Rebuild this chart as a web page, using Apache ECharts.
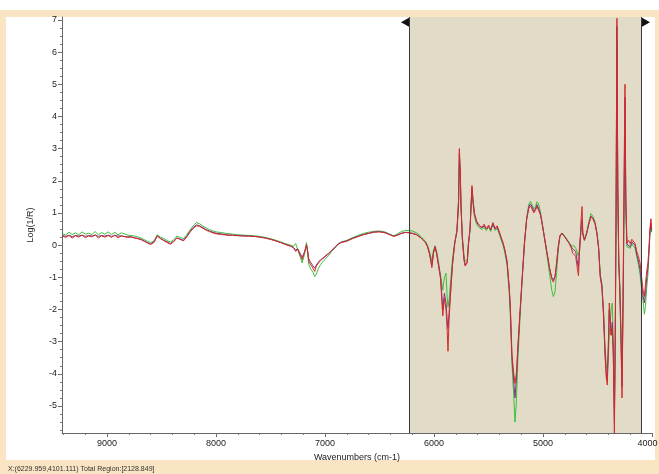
<!DOCTYPE html>
<html><head><meta charset="utf-8">
<script src="https://cdn.jsdelivr.net/npm/echarts@6/dist/echarts.min.js"></script>
<style>html,body{margin:0;padding:0;background:#fff}#c{width:659px;height:474px}</style>
</head><body><div id="c"></div>
<script>
// Wavenumbers (cm-1)
const wavenumbers = [
 9410,9380,9350,9320,9290,9260,9230,9200,9170,9140,9110,9080,9050,9020,8990,8960,8930,8900,8870,8840,8810,
 8780,8750,8720,8690,8660,8630,8600,8570,8540,8510,8480,8450,8420,8390,8360,8330,8300,8270,8240,8210,8180,8150,8120,8090,8060,8030,8000,
 7950,7900,7850,7800,7750,7700,7650,7600,7550,7500,7450,7400,7350,7320,7290,7270,7250,7230,7210,7190,7170,7160,7150,7130,7110,7095,7080,7060,7040,
 7020,7000,6970,6940,6910,6880,6850,6800,6750,6700,6650,6600,6550,6500,6450,6400,6370,6340,6300,6260,6230,
 6200,6160,6120,6080,6060,6040,6020,6005,5990,5975,5960,5940,5920,5905,5890,5880,5872,5862,5850,5830,5810,5790,5775,5768,5760,5752,5740,5725,5715,5705,5695,5685,5670,5660,5652,5643,5630,5610,5597,5580,
 5560,5540,5520,5500,5480,5460,5440,5420,5400,5380,5365,5350,5330,5310,5300,5285,5270,5257,5245,5230,5210,5193,5170,
 5150,5130,5115,5100,5085,5070,5055,5040,5025,5010,4990,4965,4940,4920,4905,4890,4875,4860,4845,4826,4800,4780,4760,4740,4728,4715,4700,4688,4675,4668,4660,4650,4642,4635,4620,4600,4580,4560,4540,
 4523,4505,4490,4475,4460,4445,4430,4420,4410,4400,4392,4385,4375,4365,4355,4345,4338,4330,4322,4314,4305,4295,4285,4275,4265,4255,4248,4240,4230,4215,4200,4185,4170,4155,4140,4125,4110,4095,4080,4070,4060,4048,4037,4028,4019,4010,4003
];
// Log(1/R) — green spectrum
const seriesGreen = [
 0.36,0.31,0.40,0.33,0.38,0.32,0.41,0.34,0.37,0.33,0.42,0.32,0.39,0.34,0.41,0.33,0.40,0.32,0.38,0.35,0.31,
 0.30,0.28,0.26,0.22,0.17,0.12,0.08,0.13,0.32,0.25,0.20,0.14,0.10,0.16,0.28,0.24,0.20,0.32,0.47,0.60,0.70,0.66,0.59,0.53,0.48,0.44,0.41,
 0.39,0.36,0.34,0.32,0.31,0.30,0.29,0.27,0.24,0.20,0.15,0.09,0.03,0.00,-0.04,0.05,-0.15,-0.35,-0.55,-0.30,0.08,-0.25,-0.60,-0.75,-0.85,-0.98,-0.90,-0.72,-0.60,
 -0.52,-0.44,-0.33,-0.20,-0.09,0.03,0.10,0.15,0.23,0.30,0.36,0.40,0.43,0.44,0.41,0.33,0.29,0.34,0.42,0.46,0.45,
 0.44,0.38,0.27,0.12,0.00,-0.22,-0.50,-0.15,-0.02,-0.22,-0.50,-0.95,-1.40,-1.00,-0.87,-1.60,-1.93,-1.70,-1.20,-0.40,0.10,0.40,1.20,2.60,2.20,1.10,0.25,-0.30,-0.50,-0.55,-0.45,0.05,0.45,1.15,1.65,1.30,0.90,0.65,0.58,0.52,
 0.48,0.55,0.45,0.58,0.42,0.68,0.45,0.52,0.32,0.12,-0.02,-0.25,-0.62,-1.50,-2.20,-3.70,-4.60,-5.50,-4.90,-3.50,-2.20,-1.20,0.02,
 0.85,1.28,1.36,1.25,1.12,1.20,1.35,1.28,1.05,0.75,0.28,-0.28,-0.90,-1.40,-1.60,-1.45,-0.85,-0.15,0.25,0.38,0.28,0.18,0.08,-0.02,-0.05,-0.02,-0.10,-0.20,-0.35,-0.15,0.12,0.45,0.60,0.30,0.18,0.40,0.72,0.98,0.88,
 0.72,0.40,-0.05,-0.9,-1.2,-2.0,-3.2,-3.7,-3.9,-3.4,-2.8,-2.5,-2.0,-1.8,-3.0,-5.0,-3.5,0.5,6.3,1.5,-0.5,-1.2,-2.5,-3.8,-1.8,1.5,3.7,1.0,-0.05,0.0,-0.1,0.05,0.1,-0.1,-0.35,-0.6,-0.9,-1.4,-1.8,-2.15,-1.9,-1.3,-0.9,-0.3,0.3,0.6,0.4
];
// Log(1/R) — purple spectrum
const seriesPurple = [
 0.30,0.27,0.31,0.26,0.30,0.28,0.31,0.27,0.30,0.28,0.31,0.27,0.30,0.28,0.31,0.27,0.30,0.28,0.29,0.27,0.26,
 0.26,0.23,0.21,0.18,0.13,0.08,0.04,0.10,0.28,0.21,0.15,0.10,0.05,0.12,0.22,0.19,0.15,0.27,0.42,0.55,0.63,0.60,0.54,0.48,0.44,0.40,0.37,
 0.35,0.32,0.31,0.30,0.29,0.28,0.27,0.25,0.22,0.18,0.13,0.07,0.01,-0.02,-0.07,-0.15,-0.12,-0.25,-0.38,-0.22,-0.02,-0.18,-0.42,-0.55,-0.65,-0.72,-0.62,-0.52,-0.45,
 -0.40,-0.34,-0.26,-0.16,-0.06,0.04,0.09,0.13,0.21,0.27,0.33,0.37,0.41,0.42,0.39,0.32,0.28,0.31,0.37,0.40,0.39,
 0.37,0.33,0.23,0.09,-0.04,-0.28,-0.62,-0.22,-0.05,-0.28,-0.58,-1.00,-2.00,-1.50,-1.80,-2.30,-2.60,-2.10,-1.50,-0.55,0.06,0.45,1.35,2.85,2.30,1.15,0.18,-0.45,-0.62,-0.65,-0.50,0.00,0.48,1.25,1.78,1.40,0.98,0.72,0.65,0.58,
 0.53,0.60,0.50,0.58,0.47,0.65,0.50,0.55,0.38,0.18,0.03,-0.17,-0.52,-1.35,-2.00,-3.50,-4.20,-4.75,-4.20,-3.20,-2.05,-1.12,0.08,
 0.82,1.20,1.28,1.18,1.05,1.12,1.26,1.20,1.00,0.72,0.30,-0.22,-0.72,-1.00,-1.08,-0.98,-0.55,-0.05,0.30,0.37,0.26,0.16,0.06,-0.05,-0.12,-0.10,-0.20,-0.45,-0.70,-0.30,0.10,0.60,0.80,0.35,0.15,0.36,0.66,0.90,0.82,
 0.68,0.36,-0.08,-0.95,-1.25,-2.1,-3.4,-4.0,-4.2,-3.1,-2.0,-2.3,-2.8,-2.4,-3.3,-5.5,-3.2,0.8,6.8,1.8,-0.5,-1.4,-2.8,-4.4,-1.6,2.0,4.6,1.2,0.02,0.05,-0.05,0.1,0.15,0.0,-0.3,-0.5,-0.75,-1.25,-1.6,-1.8,-1.5,-1.0,-0.7,-0.2,0.4,0.7,0.45
];
// Log(1/R) — red spectrum
const seriesRed = [
 0.28,0.24,0.30,0.22,0.29,0.25,0.31,0.23,0.28,0.26,0.32,0.22,0.29,0.25,0.30,0.24,0.31,0.23,0.28,0.26,0.24,
 0.25,0.22,0.20,0.17,0.12,0.06,0.02,0.08,0.29,0.20,0.14,0.08,0.03,0.10,0.22,0.18,0.13,0.25,0.40,0.52,0.60,0.58,0.52,0.46,0.42,0.38,0.35,
 0.33,0.31,0.30,0.29,0.28,0.28,0.27,0.25,0.22,0.18,0.13,0.07,0.00,-0.03,-0.08,-0.20,-0.12,-0.30,-0.45,-0.25,0.02,-0.20,-0.50,-0.62,-0.72,-0.82,-0.65,-0.55,-0.48,
 -0.42,-0.36,-0.28,-0.18,-0.08,0.03,0.08,0.12,0.20,0.26,0.32,0.36,0.40,0.41,0.38,0.31,0.27,0.30,0.36,0.39,0.38,
 0.36,0.32,0.22,0.08,-0.05,-0.30,-0.70,-0.25,-0.05,-0.30,-0.62,-1.05,-2.20,-1.65,-2.00,-2.60,-3.30,-2.30,-1.60,-0.60,0.05,0.45,1.40,3.00,2.40,1.20,0.20,-0.45,-0.65,-0.70,-0.55,0.00,0.50,1.30,1.85,1.45,1.00,0.75,0.68,0.60,
 0.55,0.65,0.50,0.62,0.48,0.70,0.52,0.60,0.40,0.20,0.05,-0.15,-0.50,-1.30,-1.90,-3.40,-3.95,-4.30,-4.00,-3.10,-2.00,-1.10,0.10,
 0.80,1.15,1.22,1.12,1.00,1.08,1.20,1.15,0.95,0.70,0.30,-0.20,-0.70,-1.05,-1.15,-1.00,-0.55,-0.05,0.28,0.36,0.25,0.15,0.05,-0.10,-0.25,-0.20,-0.35,-0.65,-0.95,-0.40,0.10,0.80,1.20,0.40,0.15,0.35,0.65,0.88,0.80,
 0.67,0.35,-0.10,-1.0,-1.3,-2.2,-3.5,-4.1,-4.35,-3.0,-1.8,-2.2,-2.8,-2.6,-3.5,-5.85,-3.0,1.0,7.05,2.0,-0.5,-1.5,-3.0,-4.75,-1.5,2.5,5.0,1.5,0.06,0.15,0.05,0.18,0.22,0.05,-0.2,-0.35,-0.55,-1.0,-1.45,-1.6,-1.2,-0.8,-0.55,-0.1,0.5,0.82,0.5
];
const xTickLabels = [9000, 8000, 7000, 6000, 5000, 4000];
const xMinorTicks = [9400,9200,9000,8800,8600,8400,8200,8000,7800,7600,7400,7200,7000,6800,6600,6400,6200,6000,5800,5600,5400,5200,5000,4800,4600,4400,4200,4000];
const yTickLabels = [-5, -4, -3, -2, -1, 0, 1, 2, 3, 4, 5, 6, 7];
const yMinorTicks = [-5.75,-5.5,-5.25,-5,-4.75,-4.5,-4.25,-4,-3.75,-3.5,-3.25,-3,-2.75,-2.5,-2.25,-2,-1.75,-1.5,-1.25,-1,-0.75,-0.5,-0.25,0,0.25,0.5,0.75,1,1.25,1.5,1.75,2,2.25,2.5,2.75,3,3.25,3.5,3.75,4,4.25,4.5,4.75,5,5.25,5.5,5.75,6,6.25,6.5,6.75,7];
const regionStart = 6229.959, regionEnd = 4101.111;
const statusText = 'X:(6229.959,4101.111) Total Region:[2128.849]';

const font = 'Liberation Sans, Arial, sans-serif';
const X_MIN = 4000, X_MAX = 9414, Y_MIN = -5.84, Y_MAX = 7.09;
const pairs = arr => wavenumbers.map((w, i) => [w, arr[i]]);

const chart = echarts.init(document.getElementById('c'), null, {renderer: 'canvas'});
const xBase = {type: 'value', inverse: true, min: X_MIN, max: X_MAX, splitLine: {show: false}};
const yBase = {type: 'value', min: Y_MIN, max: Y_MAX, splitLine: {show: false}};
chart.setOption({
  animation: false,
  backgroundColor: '#ffffff',
  graphic: [
    {type: 'rect', z: -10, silent: true, shape: {x: 0, y: 10, width: 659, height: 464}, style: {fill: '#f9e5c3'}},
    {type: 'rect', z: -9, silent: true, shape: {x: 6, y: 17, width: 649, height: 443}, style: {fill: '#ffffff'}},
    {type: 'text', z: 10, silent: true, x: 8, y: 469, style: {text: statusText, font: '7px ' + font, fill: '#333', textVerticalAlign: 'middle'}}
  ],
  grid: {left: 62, right: 7, top: 17, bottom: 41, containLabel: false, outerBoundsMode: 'none'},
  xAxis: [
    Object.assign({}, xBase, {
      name: 'Wavenumbers (cm-1)', nameLocation: 'middle', nameGap: 19,
      nameTextStyle: {fontFamily: font, fontSize: 9, color: '#222'},
      axisLine: {show: true, onZero: false, lineStyle: {color: '#666', width: 1}},
      axisTick: {show: true, customValues: xTickLabels, length: 4, lineStyle: {color: '#666'}},
      axisLabel: {
        customValues: xTickLabels,
        formatter: v => v === 4000 ? '{e|' + v + '}' : String(v),
        rich: {e: {fontFamily: font, fontSize: 9, color: '#222', padding: [0, 9, 0, 0]}},
        fontFamily: font, fontSize: 9, color: '#222', margin: 6
      }
    }),
    Object.assign({}, xBase, {
      position: 'bottom',
      axisLine: {show: false, onZero: false},
      axisTick: {show: true, customValues: xMinorTicks, length: 2, lineStyle: {color: '#777'}},
      axisLabel: {show: false}
    })
  ],
  yAxis: [
    Object.assign({}, yBase, {
      name: 'Log(1/R)', nameLocation: 'middle', nameGap: 27, nameRotate: 90,
      nameTextStyle: {fontFamily: font, fontSize: 9, color: '#222'},
      axisLine: {show: true, onZero: false, lineStyle: {color: '#666', width: 1}},
      axisTick: {show: true, customValues: yTickLabels, length: 4, lineStyle: {color: '#666'}},
      axisLabel: {customValues: yTickLabels, formatter: v => String(v), fontFamily: font, fontSize: 9, color: '#222', margin: 5}
    }),
    Object.assign({}, yBase, {
      position: 'left',
      axisLine: {show: false, onZero: false},
      axisTick: {show: true, customValues: yMinorTicks, length: 2, lineStyle: {color: '#777'}},
      axisLabel: {show: false}
    })
  ],
  series: [
    {
      name: 'green', type: 'line', xAxisIndex: 0, yAxisIndex: 0, data: pairs(seriesGreen),
      showSymbol: false, lineStyle: {color: '#3cc03c', width: 1}, itemStyle: {color: '#3cc03c'}, z: 2,
      markArea: {silent: true, itemStyle: {color: '#e1dbc8'}, data: [[{xAxis: regionStart}, {xAxis: regionEnd}]]},
      markLine: {silent: true, symbol: 'none', label: {show: false},
        lineStyle: {color: '#3a3a3a', width: 1, type: 'solid'},
        data: [{xAxis: regionStart}, {xAxis: regionEnd}]},
      markPoint: {silent: true, label: {show: false}, itemStyle: {color: '#111'}, data: [
        {coord: [regionStart, 6.93], symbol: 'triangle', symbolSize: [9, 8], symbolRotate: 90, symbolOffset: [-4, 0]},
        {coord: [regionEnd, 6.93], symbol: 'triangle', symbolSize: [9, 8], symbolRotate: -90, symbolOffset: [5, 0]}
      ]}
    },
    {name: 'purple', type: 'line', data: pairs(seriesPurple), showSymbol: false,
      lineStyle: {color: '#7a3584', width: 1}, itemStyle: {color: '#7a3584'}, z: 3},
    {name: 'red', type: 'line', data: pairs(seriesRed), showSymbol: false,
      lineStyle: {color: '#d42a2a', width: 1}, itemStyle: {color: '#d42a2a'}, z: 4}
  ]
});
</script>
</body></html>
